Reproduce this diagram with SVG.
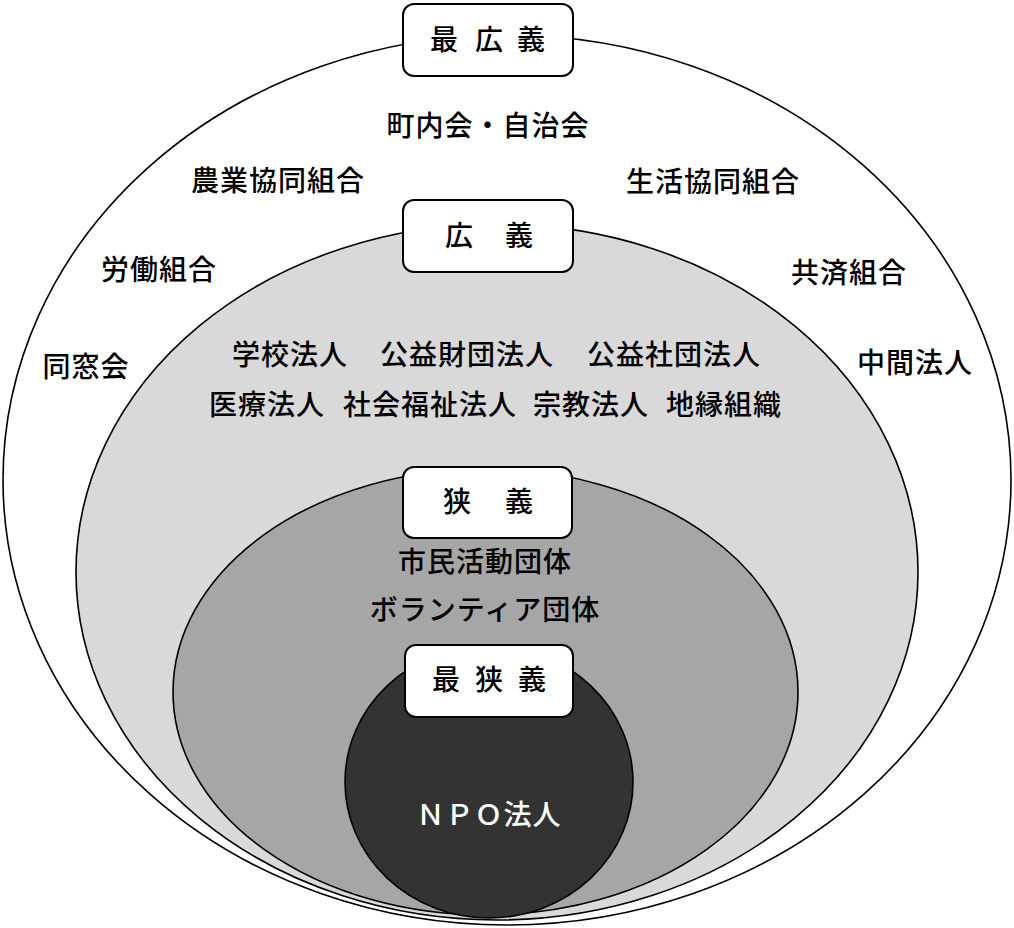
<svg xmlns="http://www.w3.org/2000/svg" width="1014" height="928" viewBox="0 0 1014 928">
<style>
.t{font-family:"Noto Sans CJK JP","Noto Sans",sans-serif;font-size:28px;font-weight:500;fill:#000;letter-spacing:1px}
.m{text-anchor:middle}
.w{fill:#fff}
.box{fill:#fff;stroke:#000;stroke-width:2}
.ring{stroke:#000;stroke-width:1.6}
</style>
<rect width="1014" height="928" fill="#fff"/>
<g id="widest">
<ellipse class="ring" cx="507" cy="480" rx="504" ry="445" fill="#fff"/>
</g>
<g id="broad">
<ellipse class="ring" cx="497" cy="572" rx="421" ry="348" fill="#d9d9d9"/>
</g>
<g id="narrow">
<ellipse class="ring" cx="485.5" cy="692" rx="312.5" ry="223" fill="#a6a6a6"/>
</g>
<g id="narrowest">
<ellipse class="ring" cx="489" cy="782" rx="144" ry="136" fill="#333333"/>
<text class="t m w" x="489" y="825">ＮＰＯ法人</text>
</g>
<g id="label-widest">
<rect class="box" x="403" y="4" width="170" height="72" rx="11"/>
<text class="t" x="430 475 517" y="50">最広義</text>
</g>
<g id="label-broad">
<rect class="box" x="403" y="200" width="170" height="72" rx="11"/>
<text class="t" x="445 505" y="246">広義</text>
</g>
<g id="label-narrow">
<rect class="box" x="403" y="467" width="169" height="71" rx="11"/>
<text class="t" x="443 505" y="512">狭義</text>
</g>
<g id="label-narrowest">
<rect class="box" x="405" y="645" width="168" height="72" rx="11"/>
<text class="t" x="432 475 518" y="690">最狭義</text>
</g>
<g id="widest-items">
<text class="t m" x="488" y="136">町内会・自治会</text>
<text class="t m" x="278" y="191">農業協同組合</text>
<text class="t m" x="713" y="192">生活協同組合</text>
<text class="t m" x="159" y="280">労働組合</text>
<text class="t m" x="849" y="283">共済組合</text>
<text class="t m" x="86" y="377">同窓会</text>
<text class="t m" x="915" y="373">中間法人</text>
</g>
<g id="broad-items">
<text class="t m" x="290" y="365">学校法人</text>
<text class="t m" x="467" y="365">公益財団法人</text>
<text class="t m" x="674" y="365">公益社団法人</text>
<text class="t m" x="267" y="415">医療法人</text>
<text class="t m" x="430" y="415">社会福祉法人</text>
<text class="t m" x="591" y="415">宗教法人</text>
<text class="t m" x="724" y="415">地縁組織</text>
</g>
<g id="narrow-items">
<text class="t m" x="485" y="572">市民活動団体</text>
<text class="t m" x="485" y="620">ボランティア団体</text>
</g>
<g id="connectors"></g>
</svg>
